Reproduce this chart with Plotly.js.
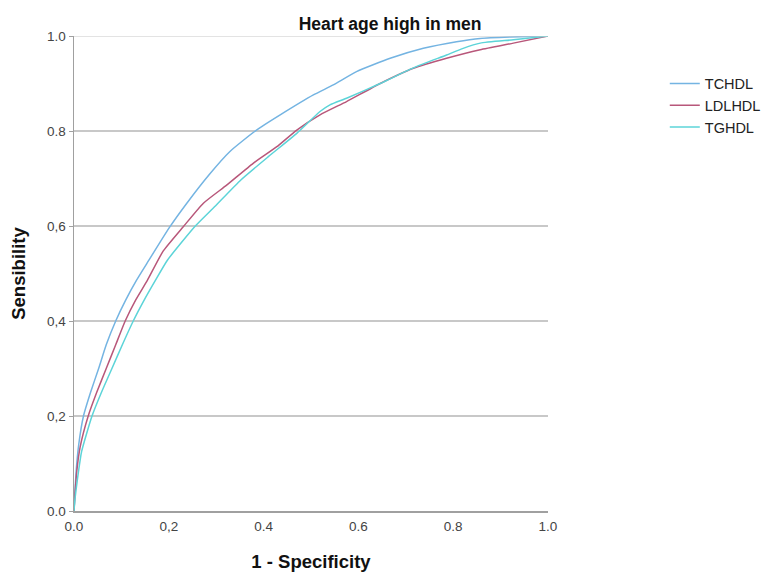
<!DOCTYPE html>
<html>
<head>
<meta charset="utf-8">
<script src="https://cdn.plot.ly/plotly-3.0.1.min.js"></script>
<style>html,body{margin:0;padding:0;background:#fff;}#chart{width:765px;height:572px;}</style>
</head>
<body>
<div id="chart"></div>
<script>
const seriesNames = ["TCHDL", "LDLHDL", "TGHDL"];
const seriesColors = ["#74b4e2", "#b8577a", "#5cd4d8"];

const tchdlX = [0, 0.002, 0.005, 0.010, 0.020, 0.035, 0.052, 0.068, 0.088, 0.109, 0.132, 0.158, 0.200, 0.238, 0.285, 0.329, 0.385, 0.435, 0.505, 0.547, 0.596, 0.667, 0.737, 0.807, 0.857, 0.92, 1.0];
const tchdlY = [0, 0.04, 0.09, 0.14, 0.20, 0.25, 0.30, 0.35, 0.40, 0.444, 0.486, 0.528, 0.595, 0.648, 0.708, 0.757, 0.802, 0.834, 0.876, 0.897, 0.925, 0.953, 0.974, 0.988, 0.995, 0.998, 1.0];

const ldlhdlX = [0, 0.002, 0.006, 0.013, 0.030, 0.048, 0.068, 0.088, 0.108, 0.130, 0.155, 0.188, 0.231, 0.273, 0.322, 0.378, 0.428, 0.470, 0.519, 0.575, 0.646, 0.716, 0.786, 0.857, 0.927, 1.0];
const ldlhdlY = [0, 0.035, 0.085, 0.135, 0.20, 0.25, 0.30, 0.35, 0.40, 0.444, 0.486, 0.547, 0.599, 0.648, 0.686, 0.732, 0.767, 0.802, 0.834, 0.862, 0.900, 0.932, 0.953, 0.971, 0.985, 1.0];

const tghdlX = [0, 0.002, 0.007, 0.016, 0.038, 0.058, 0.080, 0.102, 0.125, 0.148, 0.172, 0.197, 0.255, 0.297, 0.352, 0.410, 0.470, 0.519, 0.540, 0.575, 0.646, 0.716, 0.786, 0.821, 0.857, 0.927, 1.0];
const tghdlY = [0, 0.025, 0.065, 0.125, 0.20, 0.25, 0.30, 0.35, 0.40, 0.444, 0.486, 0.528, 0.599, 0.641, 0.697, 0.746, 0.795, 0.841, 0.855, 0.869, 0.900, 0.933, 0.960, 0.974, 0.985, 0.992, 1.0];

const tickVals = [0, 0.2, 0.4, 0.6, 0.8, 1.0];
const xTickText = ["0.0", "0,2", "0.4", "0.6", "0.8", "1.0"];
const yTickText = ["0.0", "0,2", "0,4", "0,6", "0.8", "1.0"];

const xs = [tchdlX, ldlhdlX, tghdlX];
const ys = [tchdlY, ldlhdlY, tghdlY];

const traces = seriesNames.map((n, i) => ({
  type: "scatter", mode: "lines", name: n,
  x: xs[i], y: ys[i],
  line: {color: seriesColors[i], width: 1.5, shape: "spline", smoothing: 0.5}
}));

const font = "Liberation Sans, Arial, sans-serif";
const layout = {
  width: 765, height: 572,
  margin: {l: 74, r: 217, t: 36, b: 61, autoexpand: false},
  paper_bgcolor: "#fff", plot_bgcolor: "#fff",
  font: {family: font, size: 12, color: "#333"},
  title: {text: "<b>Heart age high in men</b>", font: {family: font, size: 17.5, color: "#111"},
          x: 0.51, xref: "container", xanchor: "center", y: 0.958, yanchor: "middle"},
  xaxis: {range: [0, 1], tickvals: tickVals, ticktext: xTickText, showgrid: false, zeroline: false,
          showline: true, linecolor: "#a0a0a0", linewidth: 1.5, ticks: "", ticklen: 0, ticklabelstandoff: 2,
          tickfont: {size: 13.5, color: "#444"}, fixedrange: true, automargin: false,
          title: {text: "<b>1 - Specificity</b>", font: {size: 18.5, color: "#111"}, standoff: 26}},
  yaxis: {range: [0, 1], tickvals: tickVals, ticktext: yTickText, showgrid: true, gridcolor: "#c8c8c8", gridwidth: 1.2,
          zeroline: false, showline: true, linecolor: "#a0a0a0", linewidth: 1.5, ticks: "outside", ticklen: 4, tickcolor: "#a0a0a0",
          tickfont: {size: 13.5, color: "#444"}, fixedrange: true, automargin: false,
          title: {text: "<b>Sensibility</b>", font: {size: 18.5, color: "#111"}, standoff: 16}},
  showlegend: true,
  legend: {xref: "container", yref: "container", x: 0.869, y: 0.882, xanchor: "left", yanchor: "top",
           font: {size: 14.5, color: "#222"}, bgcolor: "rgba(0,0,0,0)", itemwidth: 30, tracegroupgap: 0},
  shapes: [{type: "line", xref: "x", yref: "y", x0: 0, x1: 1, y0: 1, y1: 1, line: {color: "#c8c8c8", width: 1.2}}]
};

Plotly.newPlot("chart", traces, layout, {displayModeBar: false, staticPlot: true});
</script>
</body>
</html>
